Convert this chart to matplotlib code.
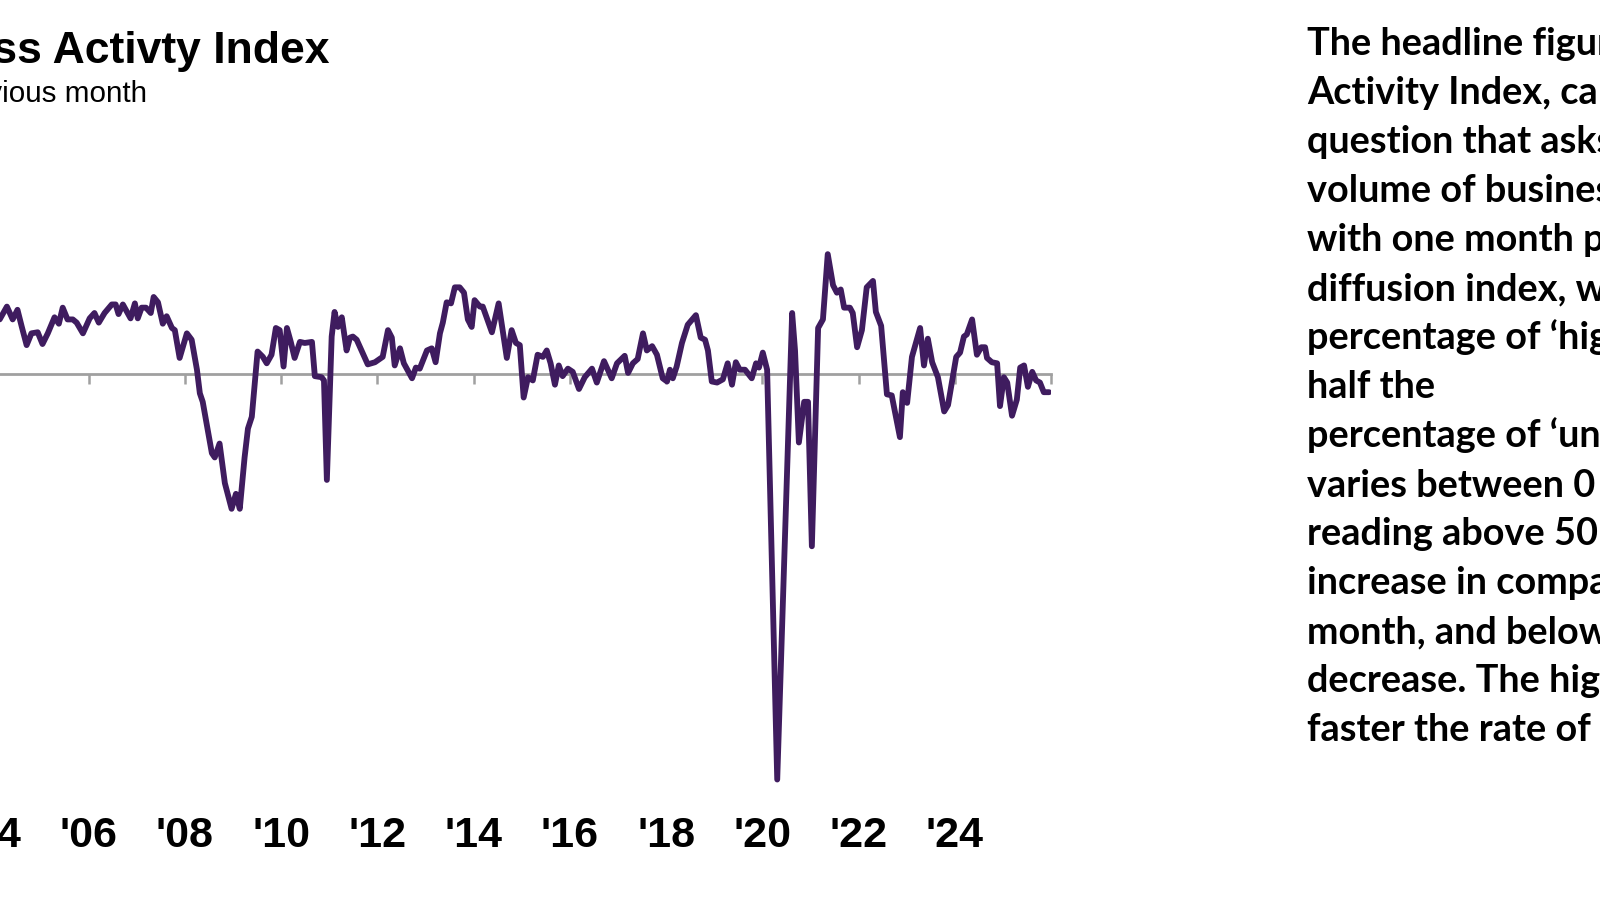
import matplotlib
matplotlib.use("Agg")
import matplotlib.pyplot as plt
from matplotlib.transforms import blended_transform_factory

# ---------------- data ----------------
dates = [
    2004.15, 2004.30, 2004.42, 2004.52, 2004.61, 2004.71, 2004.81, 2004.94,
    2005.04, 2005.15, 2005.29, 2005.38, 2005.46, 2005.56, 2005.67, 2005.75, 2005.88,
    2006.02, 2006.12, 2006.21, 2006.33, 2006.48, 2006.56, 2006.62, 2006.71, 2006.81, 2006.87, 2006.96,
    2007.02, 2007.10, 2007.19, 2007.29, 2007.35, 2007.44, 2007.54, 2007.62, 2007.73, 2007.79, 2007.89,
    2008.04, 2008.14, 2008.25, 2008.31, 2008.37, 2008.56, 2008.62, 2008.72, 2008.83, 2008.97,
    2009.06, 2009.14, 2009.24, 2009.31, 2009.39, 2009.51, 2009.62, 2009.70, 2009.80, 2009.89, 2009.97,
    2010.05, 2010.12, 2010.20, 2010.28, 2010.39, 2010.49, 2010.64, 2010.70, 2010.84, 2010.89, 2010.95,
    2011.05, 2011.11, 2011.18, 2011.26, 2011.36, 2011.43, 2011.49, 2011.57, 2011.68, 2011.80, 2011.95,
    2012.11, 2012.22, 2012.30, 2012.36, 2012.47, 2012.55, 2012.72, 2012.80, 2012.88,
    2013.03, 2013.13, 2013.21, 2013.30, 2013.36, 2013.44, 2013.53, 2013.61, 2013.71, 2013.80, 2013.88, 2013.96,
    2014.02, 2014.13, 2014.19, 2014.38, 2014.52, 2014.69, 2014.79, 2014.88, 2014.96,
    2015.04, 2015.13, 2015.23, 2015.33, 2015.44, 2015.52, 2015.60, 2015.69, 2015.77, 2015.85, 2015.96,
    2016.06, 2016.19, 2016.31, 2016.46, 2016.56, 2016.71, 2016.81, 2016.87, 2016.98,
    2017.14, 2017.21, 2017.31, 2017.41, 2017.52, 2017.60, 2017.71, 2017.81, 2017.93,
    2018.02, 2018.08, 2018.14, 2018.22, 2018.33, 2018.45, 2018.62, 2018.72, 2018.81, 2018.87, 2018.95,
    2019.06, 2019.18, 2019.28, 2019.37, 2019.45, 2019.53, 2019.64, 2019.78, 2019.87, 2019.93,
    2020.01, 2020.10, 2020.31, 2020.62, 2020.68, 2020.76, 2020.87, 2020.95,
    2021.03, 2021.16, 2021.26, 2021.36, 2021.47, 2021.55, 2021.63, 2021.70, 2021.82, 2021.88, 2021.97,
    2022.07, 2022.17, 2022.30, 2022.36, 2022.47, 2022.59, 2022.69, 2022.86, 2022.92,
    2023.01, 2023.11, 2023.28, 2023.36, 2023.44, 2023.53, 2023.65, 2023.78, 2023.86,
    2024.03, 2024.11, 2024.19, 2024.25, 2024.36, 2024.46, 2024.55, 2024.63, 2024.67, 2024.77, 2024.88, 2024.94,
    2025.02, 2025.09, 2025.19, 2025.29, 2025.36, 2025.44, 2025.52, 2025.61, 2025.69, 2025.77, 2025.85, 2025.96,
]
values = [
    55.1, 56.3, 55.1, 56.0, 54.4, 52.7, 53.8, 53.9,
    52.8, 53.8, 55.3, 54.7, 56.2, 55.1, 55.1, 54.8, 53.8,
    55.2, 55.7, 54.8, 55.7, 56.5, 56.5, 55.6, 56.5, 55.7, 55.2, 56.6,
    55.2, 56.2, 56.2, 55.7, 57.2, 56.7, 54.7, 55.4, 54.3, 54.1, 51.5,
    53.8, 53.2, 50.4, 48.2, 47.4, 42.6, 42.2, 43.5, 39.8, 37.4,
    38.8, 37.4, 42.2, 44.9, 46.0, 52.1, 51.6, 51.0, 51.8, 54.3, 54.1,
    50.7, 54.3, 53.0, 51.5, 53.0, 52.9, 53.0, 49.8, 49.7, 49.4, 40.1,
    53.5, 55.8, 54.4, 55.3, 52.2, 53.4, 53.5, 53.2, 52.1, 50.9, 51.1,
    51.6, 54.1, 53.4, 50.8, 52.4, 51.0, 49.6, 50.6, 50.5,
    52.2, 52.4, 51.1, 53.8, 54.8, 56.7, 56.6, 58.1, 58.1, 57.6, 55.1, 54.4,
    56.9, 56.3, 56.3, 53.9, 56.6, 51.5, 54.1, 52.9, 52.7,
    47.8, 49.7, 49.4, 51.8, 51.6, 52.2, 51.0, 49.0, 50.8, 49.8, 50.5,
    50.2, 48.6, 49.7, 50.5, 49.2, 51.2, 50.2, 49.6, 51.0,
    51.7, 50.1, 51.0, 51.4, 53.8, 52.2, 52.6, 51.8, 49.6,
    49.3, 50.4, 49.6, 50.7, 52.9, 54.6, 55.5, 53.4, 53.2, 52.2, 49.3,
    49.2, 49.5, 51.0, 49.0, 51.1, 50.4, 50.4, 49.6, 51.0, 50.6,
    52.0, 50.4, 12.1, 55.7, 52.2, 43.6, 47.4, 47.4,
    33.9, 54.3, 55.1, 61.2, 58.3, 57.6, 57.9, 56.2, 56.2, 55.7, 52.5,
    54.1, 58.1, 58.7, 55.8, 54.5, 48.1, 48.0, 44.1, 48.3,
    47.3, 51.6, 54.3, 50.8, 53.3, 51.1, 49.7, 46.5, 47.1,
    51.6, 52.0, 53.5, 53.7, 55.1, 51.8, 52.5, 52.5, 51.5, 51.1, 51.0, 47.0,
    49.7, 49.2, 46.1, 47.6, 50.6, 50.8, 48.8, 50.2, 49.4, 49.2, 48.3, 48.3,
]

tick_years = [2000, 2002, 2004, 2006, 2008, 2010, 2012, 2014, 2016, 2018, 2020, 2022, 2024, 2026]
label_years = [2004, 2006, 2008, 2010, 2012, 2014, 2016, 2018, 2020, 2022, 2024]
tick_labels = ["'04", "'06", "'08", "'10", "'12", "'14", "'16", "'18", "'20", "'22", "'24"]

title = "Business Activty Index"
subtitle = "Index, 50 = no change on previous month"
note_lines = [
    "The headline figure is the Business",
    "Activity Index, calculated from a single",
    "question that asks for changes in the",
    "volume of business activity compared",
    "with one month previously. It is a",
    "diffusion index, which is the",
    "percentage of \u2018higher\u2019 responses plus",
    "half the",
    "percentage of \u2018unchanged\u2019. The index",
    "varies between 0 and 100, with a",
    "reading above 50 indicating an overall",
    "increase in compared to the previous",
    "month, and below 50 an overall",
    "decrease. The higher the reading, the",
    "faster the rate of growth.",
]

# ---------------- figure ----------------
W, H = 1600, 900
fig = plt.figure(figsize=(16, 9), dpi=100)
fig.patch.set_facecolor("white")

# axes: x from 2000 (px -200) to 2026 (px 1051); y from 10 (px 802) to 70 (px 160)
ax = fig.add_axes([-200 / W, (H - 802) / H, 1251 / W, 642 / H])
ax.set_xlim(2000, 2026)
ax.set_ylim(10, 70)
ax.patch.set_alpha(0)

line_color = "#3f1c5f"
axis_color = "#a0a0a0"

ax.plot(dates, values, color=line_color, lw=4.2, solid_joinstyle="round",
        solid_capstyle="round", zorder=3)

for s in ["top", "right", "left"]:
    ax.spines[s].set_visible(False)
ax.spines["bottom"].set_position(("data", 50))
ax.spines["bottom"].set_color(axis_color)
ax.spines["bottom"].set_linewidth(2.0)
ax.spines["bottom"].set_zorder(1)
ax.set_yticks([])
ax.set_xticks(tick_years)
ax.set_xticklabels([])
ax.tick_params(axis="x", direction="out", length=7.5, width=1.8, color=axis_color)

# tick labels at the bottom of the plot
trans = blended_transform_factory(ax.transData, fig.transFigure)
for yr, lab in zip(label_years, tick_labels):
    ax.text(yr, (H - 847) / H, lab, transform=trans, ha="center", va="baseline",
            fontsize=31, fontweight="bold",
            family=["Liberation Sans", "DejaVu Sans"],
            clip_on=False)

# title and subtitle (cut off at the left edge like the reference)
fig.text(330 / W, (H - 63) / H, title, ha="right", va="baseline", fontsize=32,
         fontweight="bold", family=["Liberation Sans", "DejaVu Sans"])
fig.text(147 / W, (H - 102) / H, subtitle, ha="right", va="baseline", fontsize=21.3,
         family=["Liberation Sans", "DejaVu Sans"])

# explanatory note on the right (cut off at the right edge)
for i, ln in enumerate(note_lines):
    fig.text(1307 / W, (H - (55 + 49 * i)) / H, ln, ha="left", va="baseline",
             fontsize=27.3, fontweight="bold", family=["Lato", "DejaVu Sans"])

fig.savefig("out.png", dpi=100, facecolor="white")
